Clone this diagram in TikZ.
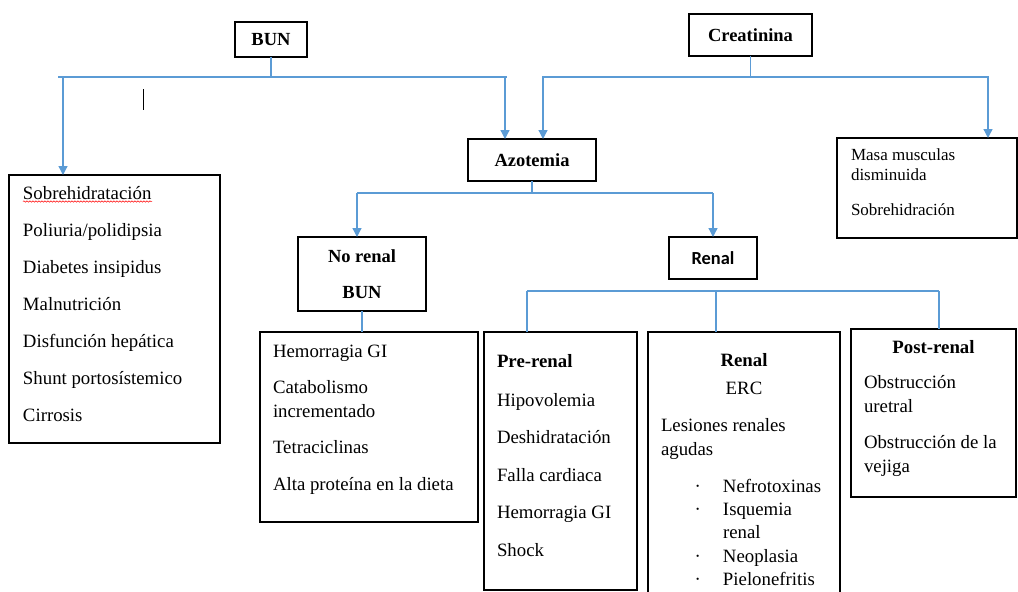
\documentclass[tikz,border=0pt]{standalone}
\usepackage{fontspec}
\setmainfont{Liberation Serif}
\newfontfamily\calibri{Carlito}
\usepackage{tikz}
\usetikzlibrary{arrows.meta,positioning,decorations.pathmorphing}
\definecolor{linkBlue}{HTML}{5B9BD5}

\begin{document}
\begin{tikzpicture}[x=1pt, y=-1pt,
  font=\fontsize{18.8}{24}\selectfont,
  head/.style={draw, line width=1.8pt, outer sep=0pt, align=center, font=\fontsize{18.5}{24}\selectfont\bfseries},
  list/.style={draw, line width=1.8pt, outer sep=0pt, anchor=north west},
  link/.style={linkBlue, line width=1.3pt},
  arr/.style={link, -{Triangle[width=9pt,length=9pt]}}]
\useasboundingbox (0,0) rectangle (1018,592);
\clip (0,0) rectangle (1018,592);
% titles
\node[head, minimum width=72pt, minimum height=35pt]  (bun)  at (271,39.5) {BUN};
\node[head, minimum width=123pt, minimum height=42pt] (crea) at (750.5,35) {Creatinina};
\node[head, minimum width=128pt, minimum height=42pt] (azo)  at (532,160)  {Azotemia};
\node[head, minimum width=128pt, minimum height=74pt] (nren) at (362,274)  {No renal\\[12pt] BUN};
\node[head, font=\calibri\fontsize{18.4}{24}\selectfont\bfseries,
  minimum width=88pt, minimum height=42pt] (renal) at (713,258) {Renal};
% lists
\node[list, inner xsep=14pt, inner ysep=7.2pt] (lst) at (9,175)
  {\parbox[c][253.6pt][t]{183pt}{\raggedright\strut Sobrehidratación\\[13pt]
   Poliuria/polidipsia\\[13pt] Diabetes insipidus\\[13pt] Malnutrición\\[13pt]
   Disfunción hepática\\[13pt] Shunt portosístemico\\[13pt] Cirrosis}};
\node[list, font=\fontsize{17}{20}\selectfont, inner xsep=14pt, inner ysep=8pt] (masa) at (837,138)
  {\parbox[c][84pt][t]{152pt}{\raggedright\strut Masa musculas\\ disminuida\\[15pt] Sobrehidración}};
\node[list, inner xsep=13pt, inner ysep=8.2pt] (nrl) at (260,332)
  {\parbox[c][173.6pt][t]{192pt}{\raggedright\strut Hemorragia GI\\[12pt]
   Catabolismo\\ incrementado\\[12pt] Tetraciclinas\\[13pt] Alta proteína en la dieta}};
\node[list, inner xsep=13pt, inner ysep=18.2pt] (pre) at (484,332)
  {\parbox[c][221.6pt][t]{127pt}{\raggedright\strut\textbf{Pre-renal}\\[15pt]
   Hipovolemia\\[13.5pt] Deshidratación\\[13.5pt] Falla cardiaca\\[13.5pt]
   Hemorragia GI\\[13.5pt] Shock}};
\node[list, inner xsep=13pt, inner ysep=17.5pt] (ren) at (648,332)
  {\parbox[c][300pt][t]{166pt}{\raggedright\makebox[\linewidth]{\strut\textbf{Renal}}\\[4pt]
   \makebox[\linewidth]{ERC}\\[13pt] Lesiones renales\\ agudas\\[13pt]
   \hspace*{33.6pt}\makebox[28.4pt][l]{·}Nefrotoxinas\\[-0.7pt]
   \hspace*{33.6pt}\makebox[28.4pt][l]{·}Isquemia\\[-0.7pt]
   \hspace*{62pt}renal\\[-0.7pt]
   \hspace*{33.6pt}\makebox[28.4pt][l]{·}Neoplasia\\[-0.7pt]
   \hspace*{33.6pt}\makebox[28.4pt][l]{·}Pielonefritis}};
\node[list, inner xsep=13pt, inner ysep=7.2pt] (post) at (851,329)
  {\parbox[c][153.6pt][t]{139pt}{\raggedright\makebox[\linewidth]{\strut\textbf{Post-renal}}\\[11pt]
   Obstrucción\\ uretral\\[12pt] Obstrucción de la\\ vejiga}};
% BUN branches
\coordinate (bunL) at (58,77);  \coordinate (bunR) at (507,77);
\coordinate (a1) at (63,77);    \coordinate (a2) at (505,77);
\draw[link] (bun.south) -- (bun.south |- bunL);
\draw[link] (bunL) -- (bunR);
\draw[arr] (a1) -- (a1 |- lst.north);
\draw[arr] (a2) -- (a2 |- azo.north);
% Creatinina branches
\coordinate (creL) at (542,77); \coordinate (creR) at (989,77);
\coordinate (a3) at (543,77);   \coordinate (a4) at (988,77);
\draw[link] (crea.south) -- (crea.south |- creL);
\draw[link] (creL) -- (creR);
\draw[arr] (a3) -- (a3 |- azo.north);
\draw[arr] (a4) -- (a4 |- masa.north);
% Azotemia branches
\coordinate (azoL) at (357,193); \coordinate (azoR) at (713,193);
\draw[link] (azo.south) -- (azo.south |- azoL);
\draw[link] (azoL) -- (azoR);
\draw[arr] (azoL) -- (azoL |- nren.north);
\draw[arr] (azoR) -- (renal.north);
\draw[link] (nren.south) -- (nren.south |- nrl.north);
% renal groups
\coordinate (renL) at (527,291); \coordinate (renM) at (716,291); \coordinate (renR) at (939,291);
\draw[link] (renL) -- (renR);
\draw[link] (renL) -- (renL |- pre.north);
\draw[link] (renM) -- (renM |- ren.north);
\draw[link] (renR) -- (renR |- post.north);
% marks left in the page
\draw[red, line width=0.5pt, decorate, decoration={snake, amplitude=0.7pt, segment length=3pt}]
  (23,201.5) -- (152,201.5);
\draw[line width=1pt] (143,89) -- (143,110);
\end{tikzpicture}
\end{document}
